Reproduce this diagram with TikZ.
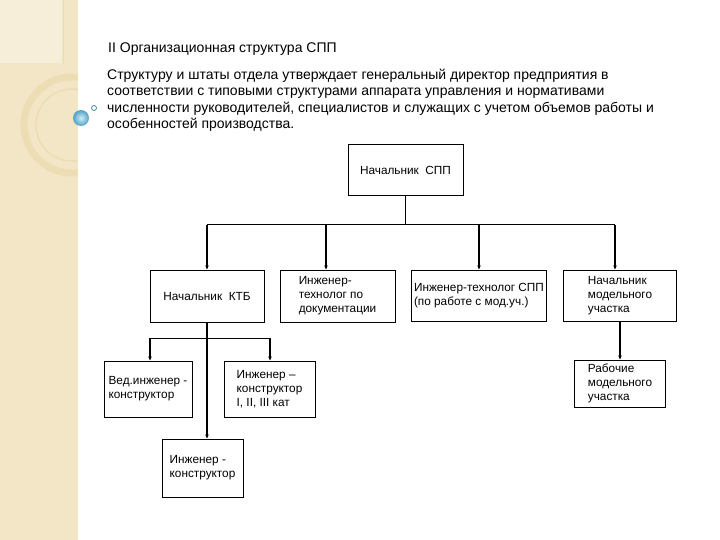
\documentclass[tikz,border=0pt]{standalone}
\usepackage{fontspec}
\setmainfont{Liberation Sans}
\usetikzlibrary{positioning,arrows.meta,shadings}
\definecolor{slide_beige}{HTML}{F3E6C6}
\definecolor{slide_ring}{HTML}{EDDDB4}
\definecolor{slide_light}{HTML}{F7EEDA}
\definecolor{slide_ball}{HTML}{5EC0E8}
\tikzstyle{line} = [draw, line width=2pt, -{Stealth[length=4pt,width=3.5pt]}]
\tikzstyle{bus} = [draw, line width=1pt]
\tikzstyle{unit} = [draw, line width=1pt, rectangle, align=left, inner sep=0pt, font=\fontsize{11.8}{14}\selectfont]
\tikzstyle{default_text} = [anchor=north west, align=left, inner sep=0pt, font=\fontsize{14}{16.3}\selectfont]

\begin{document}
\begin{tikzpicture}[x=1pt, y=-1pt]
   \useasboundingbox (0,0) rectangle (720,540);
   \fill [white] (0,0) rectangle (720,540);

   % Decoration strip
   \fill [slide_beige] (0,0) rectangle (78,540);
   \begin{scope}
      \clip (0,0) rectangle (78,540);
      \fill [slide_light] (0,0) rectangle (62,63);
      \draw [slide_ring, line width=1pt] (63,0) -- (63,65);
      \draw [slide_ring, line width=7pt] (72,125) circle (48pt);
      \draw [slide_ring, line width=1.5pt] (72,125) circle (36pt);
   \end{scope}
   \shade [inner color=slide_ball!30, outer color=slide_ball!85!black] (81,118) circle (8pt);
   \draw [slide_ball!70!black, fill=white, line width=0.8pt] (94,108) circle (2.5pt);

   % Heading
   \node at (108,43) [default_text] (title) {II Организационная структура СПП};
   \node at (107,69) [default_text] (intro) {Структуру и штаты отдела утверждает генеральный директор предприятия в\\
      соответствии с типовыми структурами аппарата управления и нормативами\\
      численности руководителей, специалистов и служащих с учетом объемов работы и\\
      особенностей производства.};

   % Head of the department
   \node at (405.5,170.5) [unit, minimum width=115pt, minimum height=51pt] (spp) {Начальник~~СПП};

   % First level
   \node at (207,296) [unit, minimum width=114pt, minimum height=52pt] (ktb) {Начальник~~КТБ};
   \node at (337.5,296) [unit, minimum width=115pt, minimum height=52pt] (tech doc) {Инженер-\\технолог по\\документации};
   \node at (479,295.5) [unit, minimum width=135pt, minimum height=51pt] (tech spp) {Инженер-технолог СПП\\(по работе с мод.уч.)};
   \node at (620,295.5) [unit, minimum width=113pt, minimum height=51pt] (model head) {Начальник\\модельного\\участка};
   \coordinate (bus l) at (207,225);
   \coordinate (bus doc) at (326,225);
   \coordinate (bus r) at (615,225);
   \path [bus] (spp.south) -- (spp.south |- bus l);
   \path [bus] (bus l) -- (bus r);
   \path [line] (bus l) -- (ktb.north);
   \path [line] (bus doc) -- (bus doc |- tech doc.north);
   \path [line] (tech spp.north |- bus l) -- (tech spp.north);
   \path [line] (bus r) -- (bus r |- model head.north);

   % Model shop
   \node at (620,383.5) [unit, minimum width=91pt, minimum height=47pt] (model work) {Рабочие\\модельного\\участка};
   \path [line] (model head.south) -- (model work.north);

   % Design bureau
   \node at (148,389) [unit, minimum width=88pt, minimum height=56pt] (lead eng) {Вед.инженер -\\конструктор};
   \node at (269.5,389) [unit, minimum width=91pt, minimum height=56pt] (eng cat) {Инженер –\\конструктор\\I, II, III кат};
   \node at (202.5,468) [unit, minimum width=81pt, minimum height=58pt] (eng) {Инженер -\\конструктор};
   \coordinate (sub l) at (150,338);
   \coordinate (sub r) at (270,338);
   \path [line] (ktb.south) -- (ktb.south |- eng.north);
   \path [bus] (sub l) -- (sub r);
   \path [line] (sub l) -- (sub l |- lead eng.north);
   \path [line] (sub r) -- (sub r |- eng cat.north);
\end{tikzpicture}
\end{document}
